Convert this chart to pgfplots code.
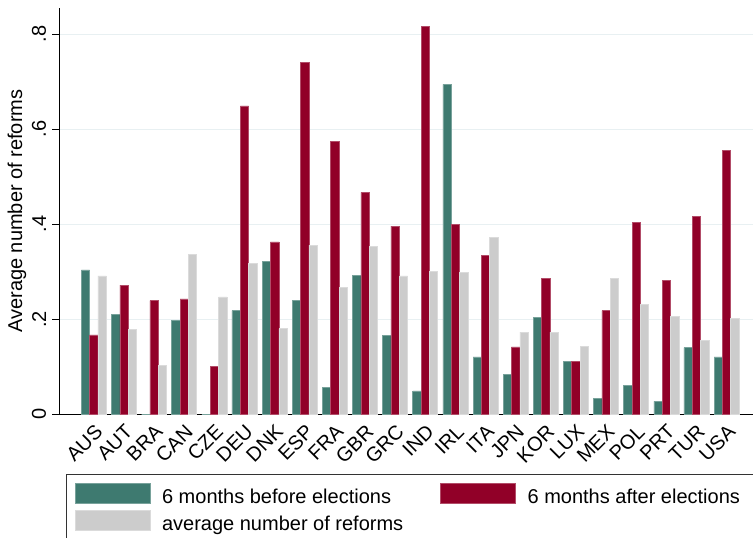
\documentclass[border=0pt]{standalone}
\usepackage{fontspec}
\setmainfont{Liberation Sans}
\usepackage{pgfplots}
\usepackage{pgfplotstable}
\pgfplotsset{compat=1.18}

\definecolor{before}{RGB}{62,122,112}
\definecolor{after}{RGB}{145,0,40}
\definecolor{avgc}{RGB}{204,204,204}
\definecolor{gridc}{RGB}{232,240,242}

% Average number of reforms per country
\pgfplotstableread{
idx before after avg
0  0.304 0.167 0.291
1  0.210 0.272 0.178
2  0.000 0.239 0.103
3  0.198 0.243 0.336
4  0.000 0.101 0.247
5  0.218 0.649 0.317
6  0.321 0.363 0.180
7  0.239 0.740 0.356
8  0.057 0.575 0.267
9  0.293 0.467 0.354
10 0.166 0.396 0.291
11 0.049 0.817 0.300
12 0.694 0.400 0.298
13 0.121 0.334 0.373
14 0.084 0.142 0.173
15 0.204 0.286 0.173
16 0.112 0.112 0.143
17 0.034 0.218 0.286
18 0.060 0.404 0.232
19 0.027 0.282 0.206
20 0.140 0.417 0.155
21 0.121 0.556 0.201
}\reforms

\begin{document}
\begin{tikzpicture}
\useasboundingbox (0,0) rectangle (564.75pt,403.5pt);
\begin{axis}[
  at={(44.5pt,92.8pt)}, anchor=south west,
  scale only axis, width=520.3pt, height=304.7pt,
  font=\fontsize{15pt}{18pt}\selectfont,
  ybar=0pt, bar width=6.25pt,
  legend image code/.code={\fill[#1] (0pt,0pt) rectangle (56.25pt,15pt);},
  xmin=-1.145, xmax=21.88, ymin=0, ymax=0.855,
  axis x line*=bottom, axis y line*=left,
  axis line style={black, line width=0.9pt},
  xtick=data,
  xticklabels={AUS,AUT,BRA,CAN,CZE,DEU,DNK,ESP,FRA,GBR,GRC,IND,IRL,ITA,JPN,KOR,LUX,MEX,POL,PRT,TUR,USA},
  x tick style={draw=none},
  xticklabel style={rotate=45, anchor=north east, inner sep=1pt},
  ytick={0,0.2,0.4,0.6,0.8},
  yticklabels={0,.2,.4,.6,.8},
  y tick style={black, line width=0.8pt},
  tick align=outside, major tick length=5.25pt,
  yticklabel style={rotate=90, anchor=south, inner sep=0pt},
  yticklabel shift=4.5pt,
  ymajorgrids, grid style={gridc, line width=0.9pt},
  ylabel={Average number of reforms},
  every axis y label/.style={at={(axis description cs:-0.0538,0.5)}, rotate=90, anchor=base},
  legend columns=2, legend cell align=left,
  legend style={
    at={(axis description cs:0.00966,-0.1469)}, anchor=north west,
    draw=black!80, line width=0.75pt,
    inner xsep=6pt, inner ysep=6.5pt, row sep=3.75pt,
    cells={anchor=base west},
    nodes={inner sep=0pt},
    /tikz/every odd column/.append style={column sep=9pt},
    /tikz/every even column/.append style={column sep=0pt},
  },
]
\addplot[fill=before, draw=before!70!white, line width=0.4pt] table[x=idx, y=before]{\reforms};
\addlegendentry{\makebox[208.5pt][l]{6 months before elections}}
\addplot[fill=after, draw=after!70!white, line width=0.4pt] table[x=idx, y=after]{\reforms};
\addlegendentry{\makebox[165pt][l]{6 months after elections}}
\addplot[fill=avgc, draw=avgc!70!white, line width=0.4pt] table[x=idx, y=avg]{\reforms};
\addlegendentry{average number of reforms}
\end{axis}
\end{tikzpicture}
\end{document}
